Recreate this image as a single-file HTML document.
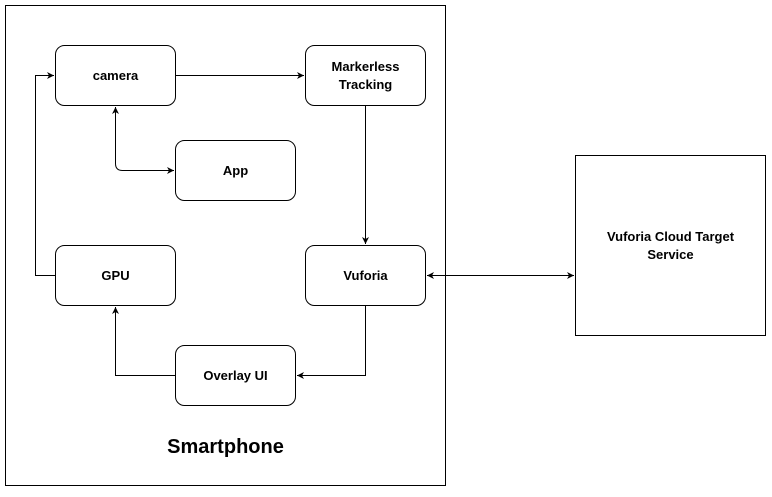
<!DOCTYPE html>
<html><head><meta charset="utf-8"><style>
html,body{margin:0;padding:0;background:#fff;}
svg text{font-family:"Liberation Sans",Arial,sans-serif;font-weight:bold;fill:#000;}
</style></head><body>
<svg width="772" height="492" viewBox="0 0 772 492" xmlns="http://www.w3.org/2000/svg">
<defs>
<marker id="a" markerWidth="8" markerHeight="8" refX="7" refY="4" orient="auto-start-reverse" markerUnits="userSpaceOnUse">
<path d="M0,0.5 L7,4 L0,7.5 L2,4 Z" fill="#000"/>
</marker>
</defs>
<rect x="5.5" y="5.5" width="440" height="480" fill="#fff" stroke="#000" stroke-width="1"/>
<rect x="575.5" y="155.5" width="190" height="180" fill="#fff" stroke="#000" stroke-width="1"/>
<g fill="#fff" stroke="#000" stroke-width="1">
<rect x="55.5" y="45.5" width="120" height="60" rx="9"/>
<rect x="305.5" y="45.5" width="120" height="60" rx="9"/>
<rect x="175.5" y="140.5" width="120" height="60" rx="9"/>
<rect x="55.5" y="245.5" width="120" height="60" rx="9"/>
<rect x="305.5" y="245.5" width="120" height="60" rx="9"/>
<rect x="175.5" y="345.5" width="120" height="60" rx="9"/>
</g>
<g fill="none" stroke="#000" stroke-width="1">
<path d="M175.5,75.5 H304" marker-end="url(#a)"/>
<path d="M365.5,105.5 V244" marker-end="url(#a)"/>
<path d="M115.5,107 V163.5 Q115.5,170.5 122.5,170.5 H174" marker-start="url(#a)" marker-end="url(#a)"/>
<path d="M55.5,275.5 H35.5 V75.5 H54" marker-end="url(#a)"/>
<path d="M365.5,305.5 V375.5 H297" marker-end="url(#a)"/>
<path d="M175.5,375.5 H115.5 V307" marker-end="url(#a)"/>
<path d="M427,275.5 H574" marker-start="url(#a)" marker-end="url(#a)"/>
</g>
<g font-size="13" text-anchor="middle">
<text x="115.5" y="80">camera</text>
<text x="365.5" y="71">Markerless</text>
<text x="365.5" y="89">Tracking</text>
<text x="235.5" y="175">App</text>
<text x="115.5" y="280">GPU</text>
<text x="365.5" y="280">Vuforia</text>
<text x="235.5" y="380">Overlay UI</text>
<text x="670.5" y="241">Vuforia Cloud Target</text>
<text x="670.5" y="259">Service</text>
<text x="225.5" y="453" font-size="20">Smartphone</text>
</g>
</svg>
</body></html>
